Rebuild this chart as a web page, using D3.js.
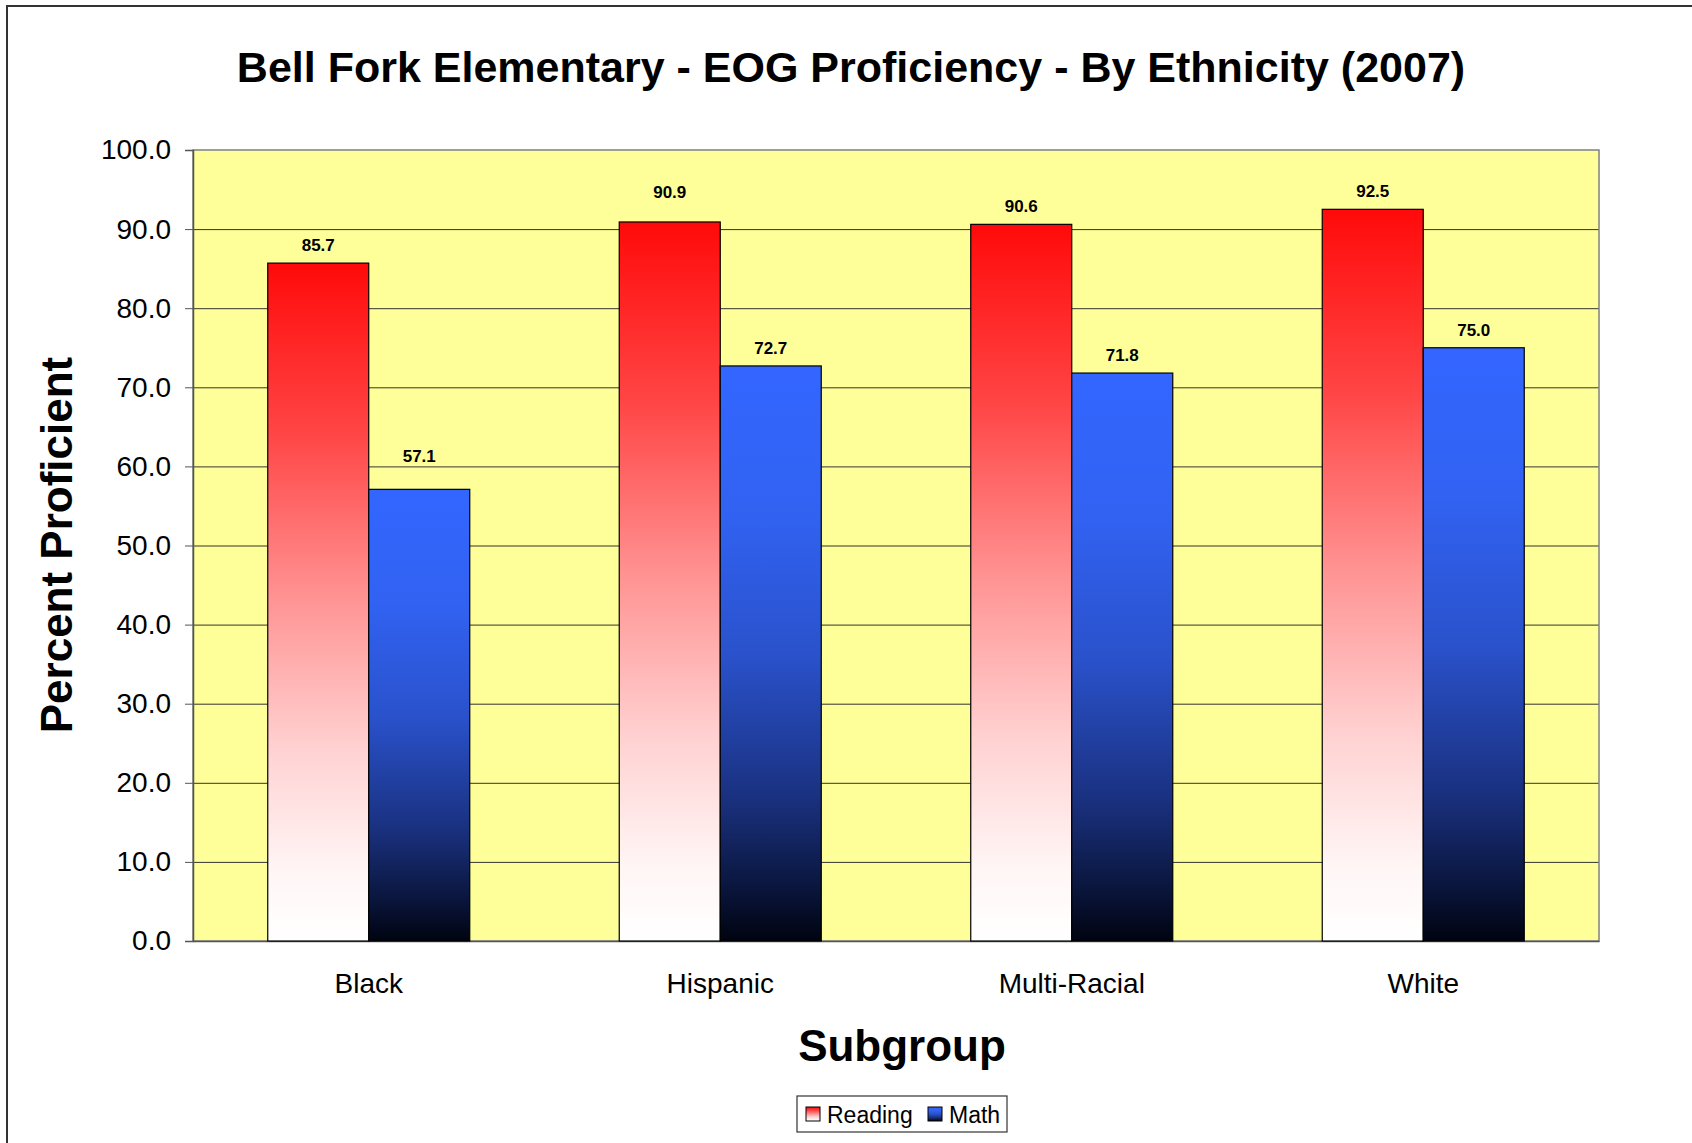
<!DOCTYPE html>
<html>
  <head>
    <meta charset="utf-8">
    <style type="text/css">
      body { margin: 0; background: #fff; }
      text { font-family: "Liberation Sans", Arial, sans-serif; fill: #000; }
      .grid line { stroke: #333; stroke-width: 1; }
      .bar { stroke: #000; stroke-width: 1.2; }
    </style>
  </head>
  <body>
    <script src="https://d3js.org/d3.v7.min.js"></script>
    <script>
      // values
      var categories = ["Black", "Hispanic", "Multi-Racial", "White"];
      var series = ["Reading", "Math"];
      var reading = [85.7, 90.9, 90.6, 92.5];
      var math = [57.1, 72.7, 71.8, 75.0];
      var yTicks = [0, 10, 20, 30, 40, 50, 60, 70, 80, 90, 100];

      // a couple of labels sit higher in the original
      var labelNudge = {"Black|Math": 15, "Hispanic|Reading": 12};

      var width = 1692, height = 1143;
      var margin = {top: 150, right: 93, bottom: 202, left: 193};
      var plotW = width - margin.left - margin.right;
      var plotH = height - margin.top - margin.bottom;

      var rows = categories.map(function(c, i) {
        return {cat: c, values: [{cat: c, key: "Reading", v: reading[i]}, {cat: c, key: "Math", v: math[i]}]};
      });

      var svg = d3.select("body").append("svg")
          .attr("width", width)
          .attr("height", height);

      var defs = svg.append("defs");
      var redGrad = defs.append("linearGradient").attr("id", "gradReading")
          .attr("x1", 0).attr("y1", 0).attr("x2", 0).attr("y2", 1);
      [[0, "#ff0a0a"], [0.25, "#ff4545"], [0.5, "#ff9595"], [0.72, "#ffd2d2"], [0.9, "#fff6f6"], [1, "#ffffff"]]
        .forEach(function(s) { redGrad.append("stop").attr("offset", s[0]).attr("stop-color", s[1]); });
      var blueGrad = defs.append("linearGradient").attr("id", "gradMath")
          .attr("x1", 0).attr("y1", 0).attr("x2", 0).attr("y2", 1);
      [[0, "#3366ff"], [0.25, "#3162f2"], [0.5, "#2a52cc"], [0.75, "#1a3180"], [0.9, "#0b1740"], [1, "#000310"]]
        .forEach(function(s) { blueGrad.append("stop").attr("offset", s[0]).attr("stop-color", s[1]); });
      var fills = {Reading: "url(#gradReading)", Math: "url(#gradMath)"};

      // outer chart border
      svg.append("rect")
          .attr("x", 7).attr("y", 6)
          .attr("width", width + 20).attr("height", height + 20)
          .attr("fill", "none").attr("stroke", "#333").attr("stroke-width", 2);

      var x0 = d3.scaleBand().domain(categories).range([0, plotW]).padding(0);
      var x1 = d3.scaleBand().domain(series).range([0, x0.bandwidth()])
          .paddingInner(0).paddingOuter(0.74);
      var y = d3.scaleLinear().domain([0, 100]).range([plotH, 0]);

      var g = svg.append("g").attr("transform", "translate(" + margin.left + "," + margin.top + ")");

      g.append("rect")
          .attr("width", plotW).attr("height", plotH)
          .attr("fill", "#ffff99");

      g.append("g").attr("class", "grid")
        .selectAll("line")
        .data(yTicks.filter(function(d) { return d > 0 && d < 100; }))
        .enter().append("line")
          .attr("x1", 0).attr("x2", plotW)
          .attr("y1", function(d) { return y(d) + 0.5; })
          .attr("y2", function(d) { return y(d) + 0.5; });

      g.append("rect")
          .attr("width", plotW).attr("height", plotH)
          .attr("fill", "none").attr("stroke", "#808080").attr("stroke-width", 1.5);

      var yAxis = g.append("g")
          .call(d3.axisLeft(y).tickValues(yTicks).tickSize(8).tickPadding(14)
            .tickFormat(d3.format(".1f")));
      yAxis.select(".domain").attr("stroke", "#555").attr("stroke-width", 1.5);
      yAxis.selectAll(".tick line").attr("stroke", "#555");
      yAxis.selectAll("text").style("font-size", "28px").attr("fill", "#000");

      var xAxis = g.append("g").attr("transform", "translate(0," + plotH + ")")
          .call(d3.axisBottom(x0).tickSize(0).tickPadding(32));
      xAxis.select(".domain").attr("stroke", "#555").attr("stroke-width", 1.5);
      xAxis.selectAll("text").style("font-size", "28px").attr("fill", "#000");

      var groups = g.selectAll(".cat")
          .data(rows)
          .enter().append("g")
          .attr("class", "cat")
          .attr("transform", function(d) { return "translate(" + x0(d.cat) + ",0)"; });

      groups.selectAll("rect")
          .data(function(d) { return d.values; })
          .enter().append("rect")
          .attr("class", "bar")
          .attr("x", function(d) { return x1(d.key); })
          .attr("width", x1.bandwidth())
          .attr("y", function(d) { return y(d.v); })
          .attr("height", function(d) { return plotH - y(d.v); })
          .attr("fill", function(d) { return fills[d.key]; });

      groups.selectAll(".lbl")
          .data(function(d) { return d.values; })
          .enter().append("text")
          .attr("class", "lbl")
          .attr("x", function(d) { return x1(d.key) + x1.bandwidth() / 2; })
          .attr("y", function(d) { return y(d.v) - 12 - (labelNudge[d.cat + "|" + d.key] || 0); })
          .attr("text-anchor", "middle")
          .style("font-size", "17px").style("font-weight", "bold")
          .text(function(d) { return d.v.toFixed(1); });

      // titles
      svg.append("text")
          .attr("x", 851).attr("y", 82)
          .attr("text-anchor", "middle")
          .style("font-size", "43px").style("font-weight", "bold")
          .text("Bell Fork Elementary - EOG Proficiency - By Ethnicity (2007)");

      svg.append("text")
          .attr("transform", "translate(72,545) rotate(-90)")
          .attr("text-anchor", "middle")
          .style("font-size", "44px").style("font-weight", "bold")
          .text("Percent Proficient");

      svg.append("text")
          .attr("x", 902).attr("y", 1061)
          .attr("text-anchor", "middle")
          .style("font-size", "44px").style("font-weight", "bold")
          .text("Subgroup");

      // legend
      var legend = svg.append("g").attr("transform", "translate(797,1096)");
      legend.append("rect")
          .attr("width", 210).attr("height", 36)
          .attr("fill", "#fff").attr("stroke", "#333").attr("stroke-width", 1.2);
      var legItems = [{key: "Reading", x: 9, w: 86}, {key: "Math", x: 131, w: 52}];
      var li = legend.selectAll(".li").data(legItems).enter().append("g")
          .attr("transform", function(d) { return "translate(" + d.x + ",0)"; });
      li.append("rect")
          .attr("x", 0).attr("y", 11).attr("width", 14).attr("height", 14)
          .attr("fill", function(d) { return fills[d.key]; })
          .attr("stroke", "#000").attr("stroke-width", 1);
      li.append("text")
          .attr("x", 21).attr("y", 27)
          .style("font-size", "23px")
          .text(function(d) { return d.key; });
    </script>
  </body>
</html>
